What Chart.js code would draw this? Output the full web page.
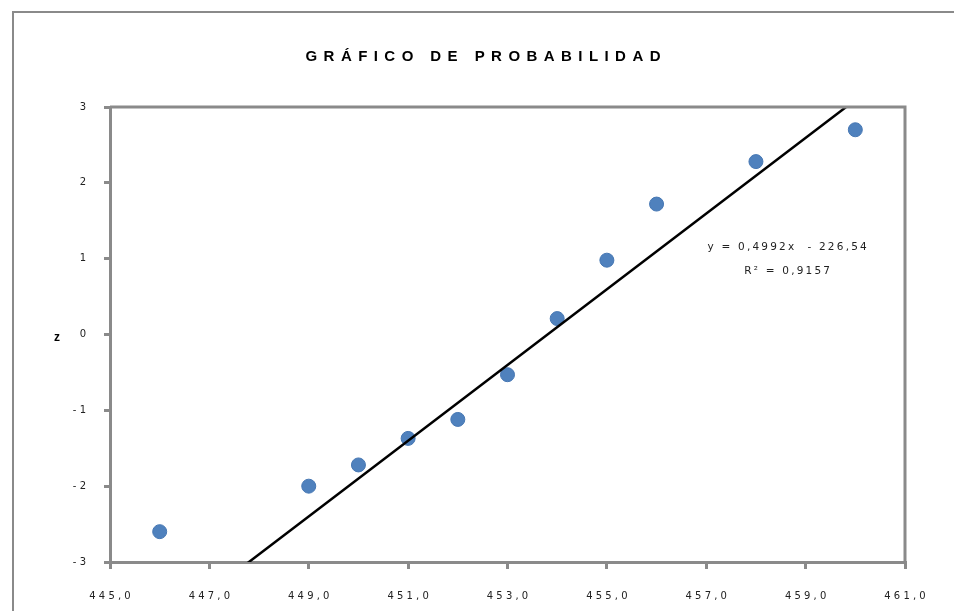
<!DOCTYPE html>
<html>
<head>
<meta charset="utf-8">
<script src="https://cdn.jsdelivr.net/npm/chart.js@4"></script>
<style>
  html, body { margin: 0; padding: 0; background: #fff; }
  #wrap { position: relative; width: 954px; height: 611px; }
</style>
</head>
<body>
<div id="wrap"><canvas id="chart" width="954" height="611"></canvas></div>
<script>
/* Gráfico de probabilidad: valores observados vs z normal + recta de tendencia */

const TITLE = "GRÁFICO DE PROBABILIDAD";
const Y_TITLE = "z";
const X_VALUES = [446, 449, 450, 451, 452, 453, 454, 455, 456, 458, 460];
const Z_VALUES = [-2.6, -2.0, -1.72, -1.37, -1.12, -0.53, 0.21, 0.98, 1.72, 2.28, 2.7];
const TREND_SLOPE = 0.4992;
const TREND_INTERCEPT = -226.54;
const TREND_LABELS = ["y = 0,4992x  - 226,54", "R² = 0,9157"];
const X_RANGE = [445, 461];
const Y_RANGE = [-3, 3];

const gray = "#8a8a8a";
const ink = "#222";
const font = "'DejaVu Sans', Verdana, sans-serif";

const spaced = (s) => s.split("").join(" ");
const fmtX = (v) => spaced(v.toFixed(1).replace(".", ","));
const fmtY = (v) => (v < 0 ? "- " + Math.abs(v) : String(v));

const points = X_VALUES.map((x, i) => ({ x, y: Z_VALUES[i] }));
const trend = X_RANGE.map((x) => ({ x, y: TREND_SLOPE * x + TREND_INTERCEPT }));

// marco exterior, borde del área de trazado, título, "z" y ecuación
const decorPlugin = {
  id: "decor",
  beforeDraw(chart) {
    const ctx = chart.ctx;
    ctx.save();
    ctx.strokeStyle = gray;
    ctx.lineWidth = 2;
    ctx.beginPath();
    ctx.moveTo(13, chart.height);
    ctx.lineTo(13, 12);
    ctx.lineTo(chart.width, 12);
    ctx.stroke();
    ctx.restore();
  },
  afterDraw(chart) {
    const ctx = chart.ctx;
    const a = chart.chartArea;
    const xs = chart.scales.x, ys = chart.scales.y;
    ctx.save();
    ctx.strokeStyle = gray;
    ctx.lineWidth = 3;
    ctx.beginPath();
    ctx.moveTo(a.left, a.top);
    ctx.lineTo(a.right, a.top);
    ctx.lineTo(a.right, a.bottom);
    ctx.stroke();

    // título con espaciado entre letras
    ctx.font = "bold 15px 'Liberation Sans', Arial, sans-serif";
    ctx.fillStyle = "#000";
    ctx.textBaseline = "middle";
    ctx.textAlign = "left";
    ctx.letterSpacing = "0px";
    const plain = ctx.measureText(TITLE).width;
    const targetW = 355;
    const ls = (targetW - plain) / (TITLE.length - 1);
    ctx.letterSpacing = ls + "px";
    ctx.fillText(TITLE, 483 - targetW / 2, 57);

    // título del eje y, horizontal
    ctx.letterSpacing = "0px";
    ctx.font = "bold 12px 'Liberation Sans', Arial, sans-serif";
    ctx.textAlign = "center";
    ctx.fillText(Y_TITLE, 57, ys.getPixelForValue(0) + 3);

    // ecuación de la recta
    ctx.font = "10.5px " + font;
    ctx.fillStyle = ink;
    ctx.letterSpacing = "2.2px";
    ctx.fillText(TREND_LABELS[0], xs.getPixelForValue(458.65), ys.getPixelForValue(1.15));
    ctx.fillText(TREND_LABELS[1], xs.getPixelForValue(458.65), ys.getPixelForValue(0.83));
    ctx.restore();
  },
};

new Chart(document.getElementById("chart"), {
  type: "scatter",
  data: {
    datasets: [
      {
        data: points,
        backgroundColor: "#4f81bd",
        borderColor: "#4677b3",
        borderWidth: 1,
        pointRadius: 7,
        order: 2,
      },
      {
        type: "line",
        data: trend,
        borderColor: "#000",
        borderWidth: 2.5,
        pointRadius: 0,
        fill: false,
        order: 1,
      },
    ],
  },
  options: {
    responsive: false,
    animation: false,
    layout: { padding: { left: 50, top: 107, right: 49, bottom: 0 } },
    plugins: { legend: { display: false }, tooltip: { enabled: false } },
    scales: {
      x: {
        type: "linear",
        min: X_RANGE[0],
        max: X_RANGE[1],
        afterFit: (s) => { s.height = 49; },
        afterBuildTicks: (s) => {
          const t = [];
          for (let v = X_RANGE[0]; v <= X_RANGE[1]; v += 2) t.push({ value: v });
          s.ticks = t;
        },
        ticks: { color: ink, font: { family: font, size: 10 }, padding: 21, maxRotation: 0, autoSkip: false, callback: (v) => fmtX(v) },
        grid: { drawOnChartArea: false, drawTicks: true, tickLength: 7, color: gray, lineWidth: 3 },
        border: { color: gray, width: 3 },
      },
      y: {
        type: "linear",
        min: Y_RANGE[0],
        max: Y_RANGE[1],
        afterFit: (s) => { s.width = 60; },
        ticks: { stepSize: 1, color: ink, font: { family: font, size: 10 }, padding: 18, callback: (v) => fmtY(v) },
        grid: { drawOnChartArea: false, drawTicks: true, tickLength: 6, color: gray, lineWidth: 3 },
        border: { color: gray, width: 3 },
      },
    },
  },
  plugins: [decorPlugin],
});
</script>
</body>
</html>
